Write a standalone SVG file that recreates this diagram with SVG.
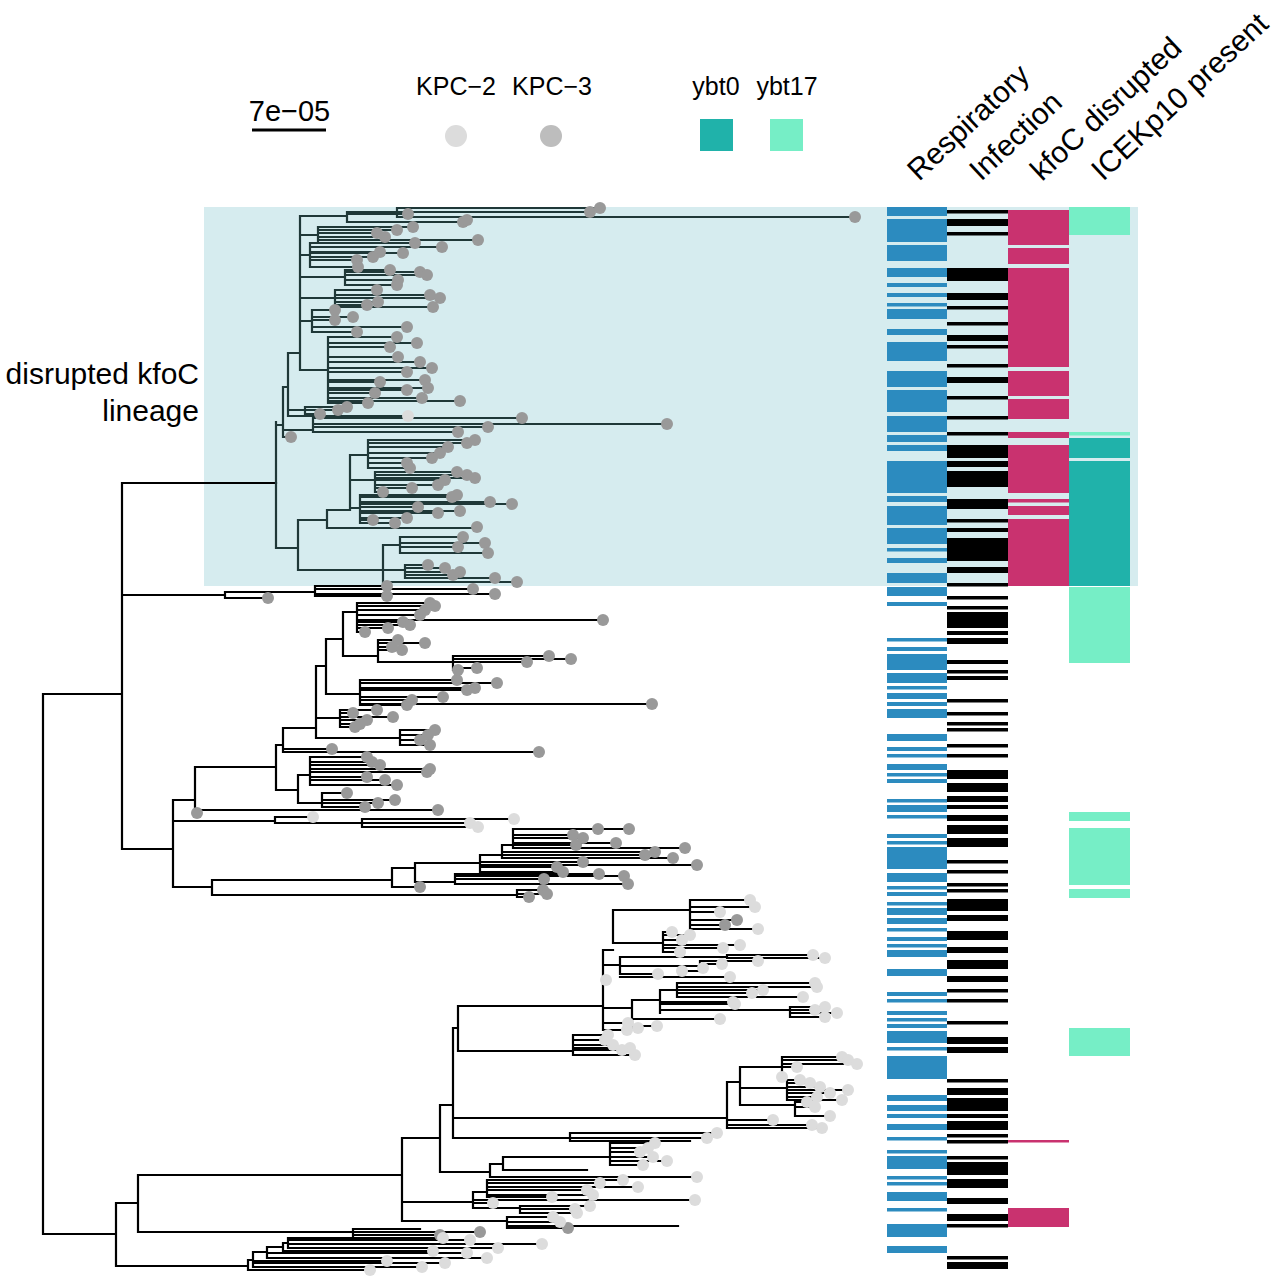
<svg xmlns="http://www.w3.org/2000/svg" xmlns:xlink="http://www.w3.org/1999/xlink" width="1278" height="1280" viewBox="0 0 1278 1280">
<style>
.br{fill:none;stroke:#000;stroke-width:2.2;stroke-linecap:square}
.bs{stroke:#1f3838}
.t{font-family:"Liberation Sans",Arial,Helvetica,sans-serif;fill:#000}
</style>
<defs>
<circle id="g" r="6" fill="#999999"/>
<circle id="l" r="6" fill="#dcdcdc"/>
</defs>
<rect width="1278" height="1280" fill="#fff"/>
<rect id="shade" x="204" y="207" width="934" height="379" fill="#d6ecef"/>

<g id="connectors">
<path class="br" d="M43 694V1234 M43 694H122 M43 1234H116 M122 483V849 M122 483H276
M122 595H225 M225 592V598 M225 598H268 M225 592H315 M315 586V596 M315 586H387 M315 589H473 M315 594H495 M315 596H387
M122 849H173 M173 800V887 M173 800H195 M195 767V813 M195 767H276 M195 810H438 M195 813H197
M173 821H275 M275 817V823 M275 817H313 M275 823H362 M362 819V827 M362 819H513 M362 823H470 M362 827H478
M173 887H212 M212 880V895 M212 880H392 M212 895H517 M517 890V897 M517 890H543 M517 894H547 M517 897H529
M392 868V887 M392 887H420 M392 868H415 M415 863V882 M415 882H455 M455 874V884 M455 874H599 M455 876H624 M455 879H544 M455 884H628
M415 863H480 M480 855V872 M480 862H583 M480 865H697 M480 867H557 M480 872H563 M480 855H502 M502 845V858 M502 852H655 M502 855H645 M502 858H673 M502 845H513 M513 829V848 M513 829H629 M513 835H573 M513 838H583 M513 843H616 M513 845H576 M513 848H685
M276 745V790 M276 790H298 M298 775V803 M298 775H310 M310 757V785 M310 757H367 M310 762H372 M310 765H380 M310 769H430 M310 772H427 M310 777H367 M310 780H385 M310 785H397 M298 803H322 M322 793V807 M322 793H347 M322 800H395 M322 803H378 M322 807H365
M276 745H283 M283 728V752 M283 752H539 M283 749H332 M283 728H316 M316 666V738 M316 738H400 M400 730V745 M400 730H435 M400 735H428 M400 740H420 M400 745H430 M316 718H340 M340 710V727 M340 710H377 M340 713H353 M340 717H393 M340 720H367 M340 724H360 M340 727H355
M316 666H326 M326 639V694 M326 694H360 M360 680V705 M360 680H457 M360 683H497 M360 688H475 M360 690H467 M360 697H443 M360 700H412 M360 704H652 M360 705H407
M326 639H343 M343 612V656 M343 612H357 M357 603V632 M357 603H430 M357 606H435 M357 610H425 M357 615H420 M357 620H603 M357 622H403 M357 625H410 M357 628H388 M357 632H365 M343 656H378 M378 640V662 M378 640H398 M378 643H425 M378 647H392 M378 650H402 M378 662H453 M453 656V670 M453 656H549 M453 659H571 M453 662H527 M453 668H477 M453 670H458
M116 1203V1266 M116 1203H138 M138 1175V1232 M138 1175H402 M402 1138V1221 M402 1138H440 M440 1105V1172 M440 1105H453 M453 1028V1138 M453 1028H458 M458 1006V1051 M458 1006H603 M603 950V1030
M603 950H613 M613 910V943 M613 910H690 M690 900V929 M690 900H750 M690 907H755 M690 912H720 M690 920H737 M690 925H725 M690 929H758 M613 943H663 M663 932V952 M663 932H672 M663 935H690 M663 940H682 M663 945H740 M663 948H723 M663 952H680
M603 965H620 M620 957V974 M620 957H727 M727 955V958 M727 955H813 M727 958H825 M620 966H700 M700 961V971 M700 961H758 M700 964H722 M700 968H703 M700 971H682 M620 974H658 M620 977H730 M603 980H606
M603 1008H632 M632 1000V1028 M632 1000H660 M660 990V1013 M660 990H677 M677 983V997 M677 983H815 M677 987H817 M677 990H763 M677 993H752 M677 997H803 M660 1002H733 M660 1004H735 M660 1010H790 M790 1007V1017 M790 1007H825 M790 1010H815 M790 1013H837 M790 1017H825 M632 1019H720 M632 1026H657 M632 1028H638 M603 1023H628 M603 1030H627
M458 1051H573 M573 1035V1055 M573 1035H608 M573 1040H605 M573 1045H613 M573 1048H630 M573 1050H622 M573 1055H635
M453 1118H727 M727 1082V1128 M727 1082H740 M740 1067V1105 M740 1067H782 M782 1057V1077 M782 1057H842 M782 1060H848 M782 1064H857 M782 1067H797 M782 1077H782 M740 1088H787 M787 1080V1100 M787 1080H800 M787 1083H810 M787 1087H820 M787 1090H848 M787 1093H830 M787 1097H817 M787 1100H842 M740 1105H795 M795 1102V1116 M795 1102H807 M795 1107H815 M795 1116H830 M727 1120H773 M727 1125H812 M727 1128H822
M453 1138H570 M570 1133V1141 M570 1133H717 M570 1138H707 M570 1141H690
M440 1172H490 M490 1164V1177 M490 1177H697 M490 1164H503 M503 1157V1170 M503 1157H610 M610 1143V1165 M610 1143H655 M610 1148H648 M610 1152H640 M610 1157H653 M610 1161H667 M610 1165H643 M503 1170H587
M402 1202H473 M473 1192V1208 M473 1192H487 M487 1180V1197 M487 1180H623 M487 1183H600 M487 1187H638 M487 1190H587 M487 1195H593 M487 1197H552 M473 1200H695 M473 1203H493 M473 1208H520 M520 1206V1213 M520 1206H590 M520 1209H575 M520 1213H577
M402 1221H507 M507 1217V1228 M507 1217H553 M507 1222H560 M507 1226H678 M507 1228H568
M138 1232H353 M353 1229V1236 M353 1229H420 M353 1232H480 M353 1235H440
M116 1266H248 M248 1260V1270 M248 1270H370 M248 1260H253 M253 1252V1267 M253 1261H387 M253 1263H445 M253 1267H422 M253 1252H267 M267 1247V1258 M267 1253H467 M267 1258H487 M267 1247H283 M283 1243V1251 M283 1251H433 M283 1243H288 M288 1238V1248 M288 1238H443 M288 1240H470 M288 1244H542 M288 1248H498"/>
<path class="br bs" d="M276 422V548 M276 425H283 M283 387V437 M283 437H291 M283 430H313 M313 418V432 M313 418H522 M313 424H667 M313 427H488 M313 432H458
M283 387H288 M288 353V416 M288 416H408 M288 353H300 M300 216V370 M300 216H347 M347 212V222 M347 212H397 M397 208V217 M397 208H600 M397 212H590 M397 217H855 M347 214H408 M347 222H463
M300 235H318 M318 227V243 M318 227H413 M318 230H397 M318 233H377 M318 237H385 M318 240H478
M300 255H310 M310 243V267 M310 243H415 M310 247H442 M310 252H380 M310 253H403 M310 257H373 M310 260H357 M310 267H358
M300 277H345 M345 270V285 M345 270H390 M345 272H420 M345 275H427 M345 280H398 M345 285H397
M300 298H335 M335 290V307 M335 290H377 M335 295H430 M335 298H440 M335 302H378 M335 305H367 M335 307H433
M300 321H312 M312 310V332 M312 310H335 M312 317H353 M312 320H335 M312 327H407 M312 332H357
M300 370H328 M328 337V403 M328 337H397 M328 343H417 M328 347H390 M328 357H398 M328 362H420 M328 368H432 M328 372H407 M328 380H425 M328 382H380 M328 388H428 M328 390H407 M328 393H375 M328 398H422 M328 401H460 M328 403H368
M288 410H305 M305 407V414 M305 407H347 M305 410H338 M305 414H320
M276 548H298 M298 520V570 M298 520H327 M327 510V528 M327 528H477 M327 510H350 M350 455V510
M350 455H368 M368 440V468 M368 440H475 M368 443H467 M368 447H448 M368 453H440 M368 458H432 M368 463H407 M368 468H410
M350 480H375 M375 472V492 M375 472H457 M375 475H467 M375 478H475 M375 480H445 M375 485H438 M375 488H412 M375 492H383
M350 508H360 M360 495V523 M360 495H457 M360 497H452 M360 502H490 M360 504H512 M360 507H418 M360 511H460 M360 513H438 M360 518H407 M360 520H373 M360 523H395
M298 570H383 M383 545V582 M383 545H400 M400 537V553 M400 537H463 M400 543H485 M400 547H458 M400 553H488
M383 570H405 M405 565V578 M405 565H428 M405 568H445 M405 572H460 M405 575H453 M405 578H495 M383 582H517"/>
</g>

<g id="tips-kpc3">
<use href="#g" x="600" y="208"/><use href="#g" x="590" y="212"/><use href="#g" x="855" y="217"/><use href="#g" x="408" y="214"/><use href="#g" x="463" y="222"/><use href="#g" x="467" y="220"/>
<use href="#g" x="413" y="227"/><use href="#g" x="397" y="230"/><use href="#g" x="377" y="233"/><use href="#g" x="385" y="237"/><use href="#g" x="478" y="240"/><use href="#g" x="415" y="243"/><use href="#g" x="442" y="247"/>
<use href="#g" x="380" y="252"/><use href="#g" x="403" y="253"/><use href="#g" x="373" y="257"/><use href="#g" x="357" y="260"/><use href="#g" x="358" y="267"/>
<use href="#g" x="390" y="270"/><use href="#g" x="420" y="272"/><use href="#g" x="427" y="275"/><use href="#g" x="398" y="280"/><use href="#g" x="397" y="285"/>
<use href="#g" x="377" y="290"/><use href="#g" x="430" y="295"/><use href="#g" x="440" y="298"/><use href="#g" x="378" y="302"/><use href="#g" x="367" y="305"/><use href="#g" x="433" y="307"/>
<use href="#g" x="335" y="310"/><use href="#g" x="353" y="317"/><use href="#g" x="335" y="320"/><use href="#g" x="407" y="327"/><use href="#g" x="357" y="332"/>
<use href="#g" x="397" y="337"/><use href="#g" x="417" y="343"/><use href="#g" x="390" y="347"/><use href="#g" x="398" y="357"/><use href="#g" x="420" y="362"/><use href="#g" x="432" y="368"/><use href="#g" x="407" y="372"/><use href="#g" x="425" y="380"/><use href="#g" x="380" y="382"/><use href="#g" x="428" y="388"/><use href="#g" x="407" y="390"/><use href="#g" x="375" y="393"/><use href="#g" x="422" y="398"/><use href="#g" x="460" y="401"/><use href="#g" x="368" y="403"/>
<use href="#g" x="347" y="407"/><use href="#g" x="338" y="410"/><use href="#g" x="320" y="414"/>
<use href="#g" x="522" y="418"/><use href="#g" x="667" y="424"/><use href="#g" x="488" y="427"/><use href="#g" x="458" y="432"/><use href="#g" x="291" y="437"/>
<use href="#g" x="475" y="440"/><use href="#g" x="467" y="443"/><use href="#g" x="448" y="447"/><use href="#g" x="440" y="453"/><use href="#g" x="432" y="458"/><use href="#g" x="407" y="463"/><use href="#g" x="410" y="468"/>
<use href="#g" x="457" y="472"/><use href="#g" x="467" y="475"/><use href="#g" x="475" y="478"/><use href="#g" x="445" y="480"/><use href="#g" x="438" y="485"/><use href="#g" x="412" y="488"/><use href="#g" x="383" y="492"/>
<use href="#g" x="457" y="495"/><use href="#g" x="452" y="497"/><use href="#g" x="490" y="502"/><use href="#g" x="512" y="504"/><use href="#g" x="418" y="507"/><use href="#g" x="460" y="511"/><use href="#g" x="438" y="513"/><use href="#g" x="407" y="518"/><use href="#g" x="373" y="520"/><use href="#g" x="395" y="523"/>
<use href="#g" x="477" y="527"/><use href="#g" x="463" y="537"/><use href="#g" x="485" y="543"/><use href="#g" x="458" y="547"/><use href="#g" x="488" y="553"/>
<use href="#g" x="428" y="565"/><use href="#g" x="445" y="568"/><use href="#g" x="460" y="572"/><use href="#g" x="453" y="575"/><use href="#g" x="495" y="578"/><use href="#g" x="517" y="582"/>
<use href="#g" x="268" y="598"/><use href="#g" x="387" y="586"/><use href="#g" x="473" y="589"/><use href="#g" x="495" y="594"/><use href="#g" x="387" y="596"/>
<use href="#g" x="197" y="813"/><use href="#g" x="438" y="810"/>
<use href="#g" x="543" y="890"/><use href="#g" x="547" y="894"/><use href="#g" x="529" y="897"/><use href="#g" x="420" y="887"/>
<use href="#g" x="599" y="874"/><use href="#g" x="624" y="876"/><use href="#g" x="544" y="879"/><use href="#g" x="628" y="884"/>
<use href="#g" x="583" y="862"/><use href="#g" x="697" y="865"/><use href="#g" x="557" y="867"/><use href="#g" x="563" y="872"/>
<use href="#g" x="655" y="852"/><use href="#g" x="645" y="855"/><use href="#g" x="673" y="858"/>
<use href="#g" x="629" y="829"/><use href="#g" x="598" y="829"/><use href="#g" x="573" y="835"/><use href="#g" x="583" y="838"/><use href="#g" x="616" y="843"/><use href="#g" x="576" y="845"/><use href="#g" x="685" y="848"/>
<use href="#g" x="367" y="757"/><use href="#g" x="372" y="762"/><use href="#g" x="380" y="765"/><use href="#g" x="430" y="769"/><use href="#g" x="427" y="772"/><use href="#g" x="367" y="777"/><use href="#g" x="385" y="780"/><use href="#g" x="397" y="785"/>
<use href="#g" x="347" y="793"/><use href="#g" x="395" y="800"/><use href="#g" x="378" y="803"/><use href="#g" x="365" y="807"/>
<use href="#g" x="539" y="752"/><use href="#g" x="332" y="749"/><use href="#g" x="435" y="730"/><use href="#g" x="428" y="735"/><use href="#g" x="420" y="740"/><use href="#g" x="430" y="745"/>
<use href="#g" x="377" y="710"/><use href="#g" x="353" y="713"/><use href="#g" x="393" y="717"/><use href="#g" x="367" y="720"/><use href="#g" x="360" y="724"/><use href="#g" x="355" y="727"/>
<use href="#g" x="457" y="680"/><use href="#g" x="497" y="683"/><use href="#g" x="475" y="688"/><use href="#g" x="467" y="690"/><use href="#g" x="443" y="697"/><use href="#g" x="412" y="700"/><use href="#g" x="652" y="704"/><use href="#g" x="407" y="705"/>
<use href="#g" x="430" y="603"/><use href="#g" x="435" y="606"/><use href="#g" x="425" y="610"/><use href="#g" x="420" y="615"/><use href="#g" x="603" y="620"/><use href="#g" x="403" y="622"/><use href="#g" x="410" y="625"/><use href="#g" x="388" y="628"/><use href="#g" x="365" y="632"/>
<use href="#g" x="398" y="640"/><use href="#g" x="425" y="643"/><use href="#g" x="392" y="647"/><use href="#g" x="402" y="650"/><use href="#g" x="549" y="656"/><use href="#g" x="571" y="659"/><use href="#g" x="527" y="662"/><use href="#g" x="477" y="668"/><use href="#g" x="458" y="670"/>
<use href="#g" x="737" y="920"/><use href="#g" x="725" y="925"/><use href="#g" x="568" y="1228"/><use href="#g" x="480" y="1232"/><use href="#g" x="440" y="1235"/>
</g>

<g id="tips-kpc2">
<use href="#l" x="408" y="416"/>
<use href="#l" x="313" y="817"/><use href="#l" x="514" y="819"/><use href="#l" x="470" y="823"/><use href="#l" x="478" y="827"/>
<use href="#l" x="750" y="900"/><use href="#l" x="755" y="907"/><use href="#l" x="720" y="912"/><use href="#l" x="758" y="929"/>
<use href="#l" x="672" y="932"/><use href="#l" x="690" y="935"/><use href="#l" x="682" y="940"/><use href="#l" x="740" y="945"/><use href="#l" x="723" y="948"/><use href="#l" x="680" y="952"/>
<use href="#l" x="813" y="955"/><use href="#l" x="825" y="958"/><use href="#l" x="758" y="961"/><use href="#l" x="722" y="964"/><use href="#l" x="703" y="968"/><use href="#l" x="682" y="971"/><use href="#l" x="658" y="974"/><use href="#l" x="730" y="977"/><use href="#l" x="606" y="980"/>
<use href="#l" x="815" y="983"/><use href="#l" x="817" y="987"/><use href="#l" x="763" y="990"/><use href="#l" x="752" y="993"/><use href="#l" x="803" y="997"/><use href="#l" x="733" y="1002"/><use href="#l" x="735" y="1004"/><use href="#l" x="825" y="1007"/><use href="#l" x="815" y="1010"/><use href="#l" x="837" y="1013"/><use href="#l" x="825" y="1017"/><use href="#l" x="720" y="1019"/><use href="#l" x="628" y="1023"/><use href="#l" x="657" y="1026"/><use href="#l" x="638" y="1028"/><use href="#l" x="627" y="1030"/>
<use href="#l" x="608" y="1035"/><use href="#l" x="605" y="1040"/><use href="#l" x="613" y="1045"/><use href="#l" x="630" y="1048"/><use href="#l" x="622" y="1050"/><use href="#l" x="635" y="1055"/>
<use href="#l" x="842" y="1057"/><use href="#l" x="848" y="1060"/><use href="#l" x="857" y="1064"/><use href="#l" x="797" y="1067"/><use href="#l" x="782" y="1077"/><use href="#l" x="800" y="1080"/><use href="#l" x="810" y="1083"/><use href="#l" x="820" y="1087"/><use href="#l" x="848" y="1090"/><use href="#l" x="830" y="1093"/><use href="#l" x="817" y="1097"/><use href="#l" x="842" y="1100"/><use href="#l" x="807" y="1102"/><use href="#l" x="815" y="1107"/><use href="#l" x="830" y="1116"/><use href="#l" x="773" y="1120"/><use href="#l" x="812" y="1125"/><use href="#l" x="822" y="1128"/>
<use href="#l" x="717" y="1133"/><use href="#l" x="707" y="1138"/><use href="#l" x="697" y="1177"/>
<use href="#l" x="655" y="1143"/><use href="#l" x="648" y="1148"/><use href="#l" x="640" y="1152"/><use href="#l" x="653" y="1157"/><use href="#l" x="667" y="1161"/><use href="#l" x="643" y="1165"/>
<use href="#l" x="623" y="1180"/><use href="#l" x="600" y="1183"/><use href="#l" x="638" y="1187"/><use href="#l" x="587" y="1190"/><use href="#l" x="593" y="1195"/><use href="#l" x="552" y="1197"/><use href="#l" x="695" y="1200"/><use href="#l" x="493" y="1203"/><use href="#l" x="590" y="1206"/><use href="#l" x="575" y="1209"/><use href="#l" x="577" y="1213"/>
<use href="#l" x="553" y="1217"/><use href="#l" x="560" y="1222"/>
<use href="#l" x="443" y="1238"/><use href="#l" x="470" y="1240"/><use href="#l" x="542" y="1244"/><use href="#l" x="498" y="1248"/><use href="#l" x="433" y="1251"/><use href="#l" x="467" y="1253"/><use href="#l" x="487" y="1258"/><use href="#l" x="387" y="1261"/><use href="#l" x="445" y="1263"/><use href="#l" x="422" y="1267"/><use href="#l" x="370" y="1270"/>
</g>

<g id="heat-respiratory" fill="#2c8bbf">
<rect x="887" width="60" y="207" height="9"/><rect x="887" width="60" y="219" height="23"/><rect x="887" width="60" y="245" height="16"/><rect x="887" width="60" y="268" height="9"/><rect x="887" width="60" y="283" height="4"/><rect x="887" width="60" y="293" height="4"/><rect x="887" width="60" y="303" height="3.5"/><rect x="887" width="60" y="309" height="10"/><rect x="887" width="60" y="329" height="6"/><rect x="887" width="60" y="342" height="19"/><rect x="887" width="60" y="371" height="16"/><rect x="887" width="60" y="390" height="22"/><rect x="887" width="60" y="416" height="16"/><rect x="887" width="60" y="435" height="7"/><rect x="887" width="60" y="445" height="6"/><rect x="887" width="60" y="461" height="32"/><rect x="887" width="60" y="496" height="6"/><rect x="887" width="60" y="506" height="19"/><rect x="887" width="60" y="528" height="16"/><rect x="887" width="60" y="548" height="3.5"/><rect x="887" width="60" y="558" height="5"/><rect x="887" width="60" y="573" height="10"/><rect x="887" width="60" y="587" height="9"/>
<rect x="887" width="60" y="602" height="4"/><rect x="887" width="60" y="638" height="3.5"/><rect x="887" width="60" y="647" height="4"/><rect x="887" width="60" y="654" height="16"/><rect x="887" width="60" y="673" height="10"/><rect x="887" width="60" y="686" height="3.5"/><rect x="887" width="60" y="693" height="6"/><rect x="887" width="60" y="702" height="4"/><rect x="887" width="60" y="709" height="9"/><rect x="887" width="60" y="734" height="7"/><rect x="887" width="60" y="747" height="4"/><rect x="887" width="60" y="754" height="3.5"/><rect x="887" width="60" y="764" height="6"/><rect x="887" width="60" y="773" height="3.5"/><rect x="887" width="60" y="779" height="4"/><rect x="887" width="60" y="799" height="3.5"/><rect x="887" width="60" y="805" height="7"/><rect x="887" width="60" y="815" height="3.5"/><rect x="887" width="60" y="834" height="4"/><rect x="887" width="60" y="841" height="3.5"/><rect x="887" width="60" y="847" height="22"/><rect x="887" width="60" y="873" height="9"/><rect x="887" width="60" y="886" height="3.5"/><rect x="887" width="60" y="892" height="4"/><rect x="887" width="60" y="902" height="3.5"/><rect x="887" width="60" y="908" height="7"/><rect x="887" width="60" y="918" height="6"/><rect x="887" width="60" y="928" height="3.5"/><rect x="887" width="60" y="937" height="4"/><rect x="887" width="60" y="944" height="3.5"/><rect x="887" width="60" y="950" height="7"/><rect x="887" width="60" y="969" height="7"/>
<rect x="887" width="60" y="992" height="4"/><rect x="887" width="60" y="999" height="3.5"/><rect x="887" width="60" y="1011" height="4"/><rect x="887" width="60" y="1018" height="3.5"/><rect x="887" width="60" y="1024" height="4"/><rect x="887" width="60" y="1031" height="12"/><rect x="887" width="60" y="1047" height="3.5"/><rect x="887" width="60" y="1056" height="23"/><rect x="887" width="60" y="1095" height="6"/><rect x="887" width="60" y="1105" height="6"/><rect x="887" width="60" y="1114" height="4"/><rect x="887" width="60" y="1124" height="6"/><rect x="887" width="60" y="1137" height="3.5"/><rect x="887" width="60" y="1150" height="3.5"/><rect x="887" width="60" y="1156" height="13"/><rect x="887" width="60" y="1176" height="3.5"/><rect x="887" width="60" y="1182" height="3.5"/><rect x="887" width="60" y="1192" height="9"/><rect x="887" width="60" y="1208" height="3.5"/><rect x="887" width="60" y="1224" height="13"/><rect x="887" width="60" y="1246" height="7"/>
</g>

<g id="heat-infection" fill="#000">
<rect x="947" width="61" y="210" height="3.5"/><rect x="947" width="61" y="219" height="7"/><rect x="947" width="61" y="232" height="3.5"/><rect x="947" width="61" y="268" height="13"/><rect x="947" width="61" y="293" height="7"/><rect x="947" width="61" y="306" height="3.5"/><rect x="947" width="61" y="322" height="3.5"/><rect x="947" width="61" y="335" height="6"/><rect x="947" width="61" y="345" height="3.5"/><rect x="947" width="61" y="364" height="3.5"/><rect x="947" width="61" y="377" height="6"/><rect x="947" width="61" y="396" height="3.5"/><rect x="947" width="61" y="416" height="3.5"/><rect x="947" width="61" y="432" height="3.5"/><rect x="947" width="61" y="445" height="13"/><rect x="947" width="61" y="461" height="6"/><rect x="947" width="61" y="471" height="16"/><rect x="947" width="61" y="499" height="10"/><rect x="947" width="61" y="519" height="3.5"/><rect x="947" width="61" y="528" height="4"/><rect x="947" width="61" y="538" height="23"/><rect x="947" width="61" y="567" height="6"/><rect x="947" width="61" y="583" height="3.5"/><rect x="947" width="61" y="596" height="3.5"/>
<rect x="947" width="61" y="606" height="3.5"/><rect x="947" width="61" y="612" height="16"/><rect x="947" width="61" y="631" height="4"/><rect x="947" width="61" y="638" height="6"/><rect x="947" width="61" y="660" height="4"/><rect x="947" width="61" y="670" height="3.5"/><rect x="947" width="61" y="676" height="4"/><rect x="947" width="61" y="699" height="3.5"/><rect x="947" width="61" y="712" height="3.5"/><rect x="947" width="61" y="722" height="3.5"/><rect x="947" width="61" y="728" height="3.5"/><rect x="947" width="61" y="744" height="3.5"/><rect x="947" width="61" y="754" height="3.5"/><rect x="947" width="61" y="770" height="9"/><rect x="947" width="61" y="783" height="9"/><rect x="947" width="61" y="796" height="6"/><rect x="947" width="61" y="805" height="4"/><rect x="947" width="61" y="815" height="6"/><rect x="947" width="61" y="825" height="9"/><rect x="947" width="61" y="838" height="9"/><rect x="947" width="61" y="860" height="3.5"/><rect x="947" width="61" y="870" height="3.5"/><rect x="947" width="61" y="883" height="3.5"/><rect x="947" width="61" y="889" height="3.5"/><rect x="947" width="61" y="899" height="12"/><rect x="947" width="61" y="915" height="6"/><rect x="947" width="61" y="931" height="9"/><rect x="947" width="61" y="947" height="6"/><rect x="947" width="61" y="960" height="9"/><rect x="947" width="61" y="976" height="6"/><rect x="947" width="61" y="989" height="3.5"/>
<rect x="947" width="61" y="999" height="3.5"/><rect x="947" width="61" y="1021" height="3.5"/><rect x="947" width="61" y="1037" height="7"/><rect x="947" width="61" y="1047" height="6"/><rect x="947" width="61" y="1079" height="3.5"/><rect x="947" width="61" y="1088" height="7"/><rect x="947" width="61" y="1098" height="13"/><rect x="947" width="61" y="1114" height="4"/><rect x="947" width="61" y="1121" height="9"/><rect x="947" width="61" y="1134" height="3.5"/><rect x="947" width="61" y="1140" height="3.5"/><rect x="947" width="61" y="1156" height="3.5"/><rect x="947" width="61" y="1162" height="13"/><rect x="947" width="61" y="1179" height="9"/><rect x="947" width="61" y="1198" height="6"/><rect x="947" width="61" y="1214" height="7"/><rect x="947" width="61" y="1224" height="3.5"/><rect x="947" width="61" y="1256" height="3.5"/><rect x="947" width="61" y="1262" height="7"/>
</g>

<g id="heat-kfoc" fill="#c9326f">
<rect x="1008" width="61" y="210" height="35"/><rect x="1008" width="61" y="248" height="16"/><rect x="1008" width="61" y="268" height="99"/><rect x="1008" width="61" y="371" height="25"/><rect x="1008" width="61" y="399" height="20"/><rect x="1008" width="61" y="432" height="6"/><rect x="1008" width="61" y="445" height="48"/><rect x="1008" width="61" y="499" height="3.5"/><rect x="1008" width="61" y="506" height="9"/><rect x="1008" width="61" y="519" height="67"/><rect x="1008" width="61" y="1140" height="2.5"/><rect x="1008" width="61" y="1208" height="19"/>
</g>

<g id="heat-icekp10">
<rect x="1069" width="61" y="207" height="28" fill="#76eec6"/><rect x="1069" width="61" y="432" height="3.5" fill="#76eec6"/><rect x="1069" width="61" y="438" height="20" fill="#20b2aa"/><rect x="1069" width="61" y="461" height="125" fill="#20b2aa"/><rect x="1069" width="61" y="587" height="76" fill="#76eec6"/><rect x="1069" width="61" y="812" height="9" fill="#76eec6"/><rect x="1069" width="61" y="828" height="57" fill="#76eec6"/><rect x="1069" width="61" y="889" height="9" fill="#76eec6"/><rect x="1069" width="61" y="1028" height="28" fill="#76eec6"/>
</g>

<g id="scale-bar">
<text class="t" x="289.5" y="121" font-size="29" text-anchor="middle">7e−05</text>
<line x1="252" y1="130" x2="326" y2="130" stroke="#000" stroke-width="3"/>
</g>
<g id="legend-kpc">
<text class="t" x="456" y="95" font-size="25" text-anchor="middle">KPC−2</text>
<text class="t" x="552" y="95" font-size="25" text-anchor="middle">KPC−3</text>
<circle cx="456" cy="136" r="11" fill="#dcdcdc"/>
<circle cx="551" cy="136" r="11" fill="#bdbdbd"/>
</g>
<g id="legend-ybt">
<text class="t" x="716" y="95" font-size="25" text-anchor="middle">ybt0</text>
<text class="t" x="787" y="95" font-size="25" text-anchor="middle">ybt17</text>
<rect x="700" y="119" width="33" height="32" fill="#20b2aa"/>
<rect x="770" y="119" width="33" height="32" fill="#76eec6"/>
</g>
<g id="column-headers" font-size="30">
<text class="t" transform="translate(919,182) rotate(-43)">Respiratory</text>
<text class="t" transform="translate(981,182) rotate(-43)">Infection</text>
<text class="t" transform="translate(1042,182) rotate(-43)">kfoC disrupted</text>
<text class="t" transform="translate(1103,182) rotate(-43)">ICEKp10 present</text>
</g>
<g id="clade-label" font-size="30">
<text class="t" x="199" y="384" text-anchor="end">disrupted kfoC</text>
<text class="t" x="199" y="421" text-anchor="end">lineage</text>
</g>
</svg>
